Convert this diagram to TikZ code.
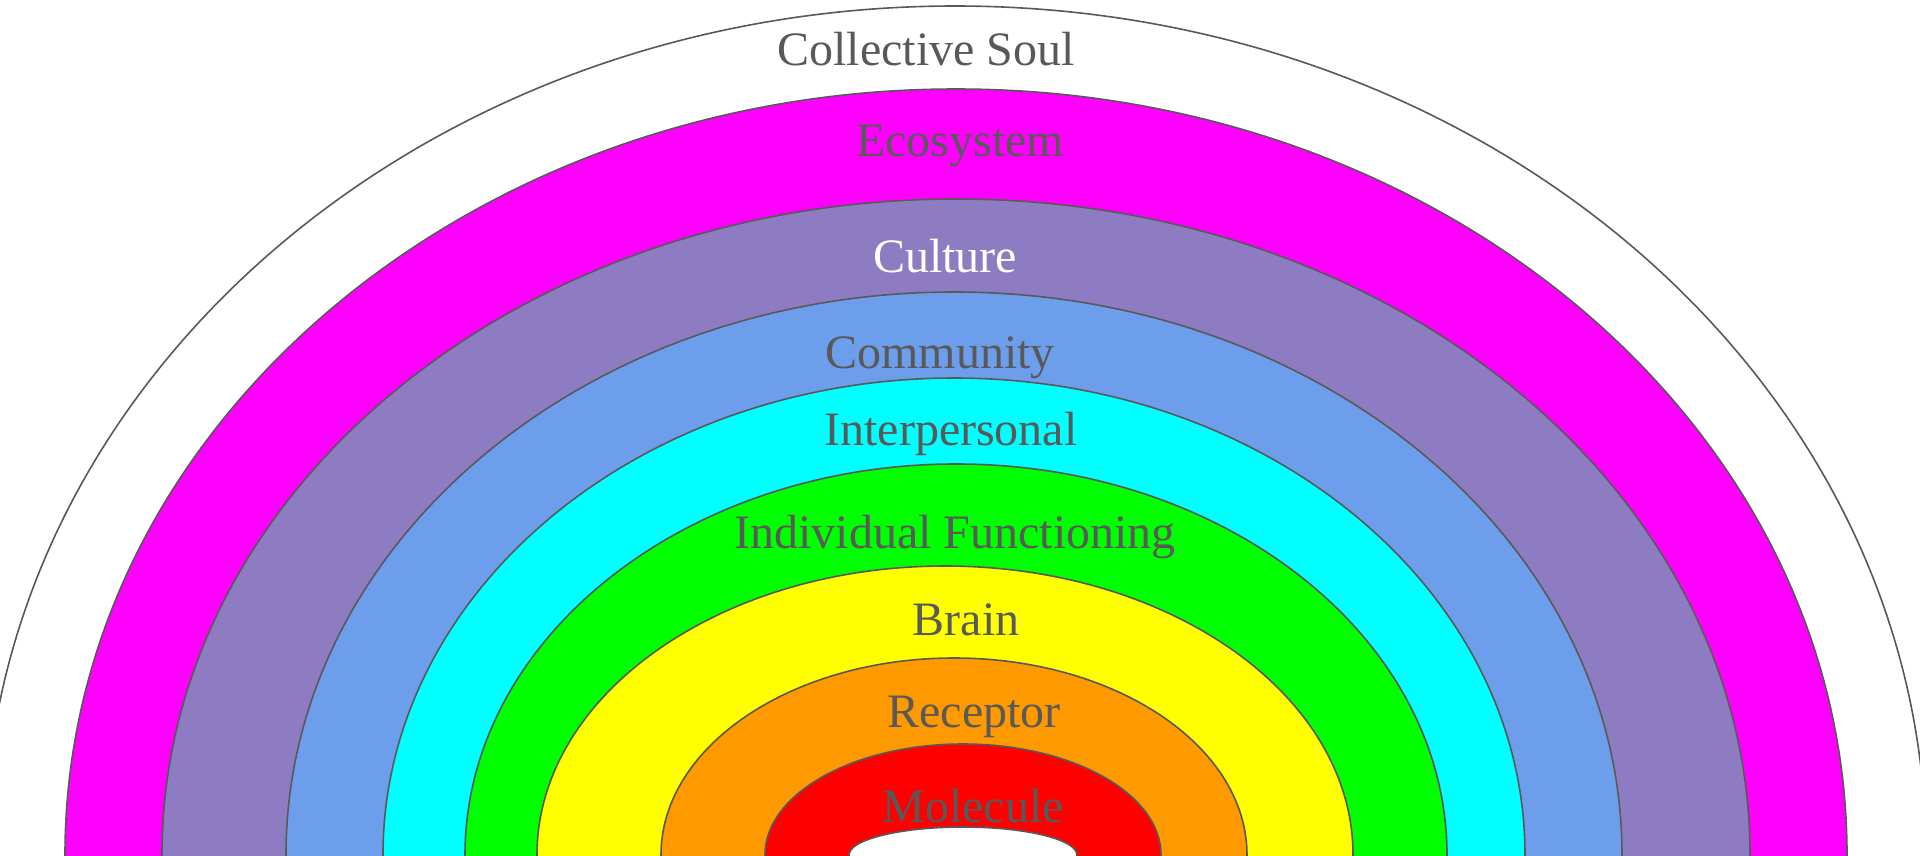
\documentclass[tikz,border=0pt]{standalone}
\usepackage{fontspec}
\setmainfont{Liberation Serif}
\definecolor{edge}{HTML}{595959}
\definecolor{cMagenta}{HTML}{FF00FF}
\definecolor{cPurple}{HTML}{8E7CC3}
\definecolor{cBlue}{HTML}{6D9EEB}
\definecolor{cCyan}{HTML}{00FFFF}
\definecolor{cGreen}{HTML}{00FF00}
\definecolor{cYellow}{HTML}{FFFF00}
\definecolor{cOrange}{HTML}{FF9900}
\definecolor{cRed}{HTML}{FF0000}
\begin{document}
\begin{tikzpicture}[x=1pt,y=-1pt,
  ring/.style={draw=edge, line width=1.6pt},
  lbl/.style={anchor=base, text=edge, inner sep=0pt, font=\fontsize{48}{48}\selectfont}]
\useasboundingbox (0,0) rectangle (1920,855);
\clip (0,0) rectangle (1920,855);
\fill[white] (0,0) rectangle (1920,855);
\draw[ring, fill=white]   (955,855) ellipse [x radius=971, y radius=849];
\draw[ring, fill=cMagenta] (956,855) ellipse [x radius=891, y radius=766];
\draw[ring, fill=cPurple]  (956,855) ellipse [x radius=794, y radius=656];
\draw[ring, fill=cBlue]    (954,855) ellipse [x radius=668, y radius=563];
\draw[ring, fill=cCyan]    (954,855) ellipse [x radius=571, y radius=477];
\draw[ring, fill=cGreen]   (956,855) ellipse [x radius=491, y radius=391];
\draw[ring, fill=cYellow]  (945,855) ellipse [x radius=408, y radius=289];
\draw[ring, fill=cOrange]  (954,855) ellipse [x radius=293, y radius=197];
\draw[ring, fill=cRed]     (963,855) ellipse [x radius=198, y radius=111];
\draw[ring, fill=white]    (963,855) ellipse [x radius=114, y radius=28];
\node[lbl] (soul) at (926,65) {Collective Soul};
\node[lbl] (eco) at (960,156) {Ecosystem};
\node[lbl, text=white] (cult) at (945,272) {Culture};
\node[lbl] (comm) at (940,368) {Community};
\node[lbl] (inter) at (951,445) {Interpersonal};
\node[lbl] (indiv) at (955,548) {Individual Functioning};
\node[lbl] (brain) at (966,635) {Brain};
\node[lbl] (recep) at (974,727) {Receptor};
\node[lbl] (molec) at (973,822) {Molecule};
\end{tikzpicture}
\end{document}
